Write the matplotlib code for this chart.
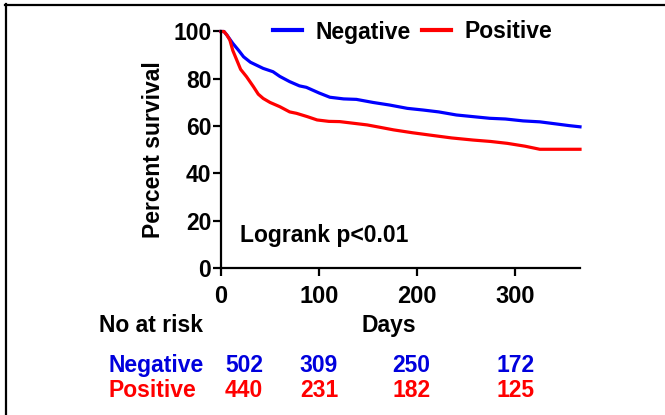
import matplotlib
matplotlib.use("Agg")
import matplotlib.pyplot as plt
from matplotlib.lines import Line2D

plt.rcParams['font.family'] = ['Liberation Sans', 'DejaVu Sans']
plt.rcParams['font.weight'] = 'bold'

# ---- data ----
neg_days = [0, 3, 6, 12, 18, 23, 30, 43, 53, 60, 70, 80, 87, 100, 111, 125, 138,
            155, 172, 190, 206, 222, 240, 257, 274, 290, 308, 325, 342, 355, 366]
neg_surv = [100, 100, 98.5, 95, 92, 89.3, 87, 84.4, 83, 81, 78.8, 77, 76.4, 74, 72.2,
            71.5, 71.3, 70, 68.9, 67.5, 66.8, 66, 64.7, 64, 63.3, 63, 62.2, 61.8,
            60.9, 60.2, 59.7]
pos_days = [0, 3, 6, 9, 12, 16, 20, 26, 33, 38, 43, 50, 60, 70, 77, 88, 98, 110,
            121, 135, 149, 162, 176, 195, 213, 235, 257, 275, 292, 310, 325, 345, 366]
pos_surv = [100, 100, 98.5, 96.4, 92, 88, 84, 80.9, 76.7, 73.5, 71.7, 70, 68.2, 66,
            65.4, 64, 62.6, 62, 61.9, 61.2, 60.5, 59.5, 58.4, 57.2, 56.2, 55, 54.1,
            53.5, 52.7, 51.5, 50.2, 50.2, 50.2]

series_names = ["Negative", "Positive"]
series_colors = ["#0000FF", "#FF0000"]
text_colors = ["#0000DD", "#FF0000"]
x_ticks = [0, 100, 200, 300]
y_ticks = [0, 20, 40, 60, 80, 100]
risk_neg = [502, 309, 250, 172]
risk_pos = [440, 231, 182, 125]
pvalue_text = "Logrank p<0.01"

W, H = 665, 415
fig = plt.figure(figsize=(W / 100, H / 100), dpi=100)

def fx(px):
    return px / W

def fy(py):
    return 1 - py / H

ax = fig.add_axes([fx(221), fy(268), fx(580) - fx(221), fy(31.5) - fy(268)])

ax.plot(neg_days, neg_surv, color=series_colors[0], lw=2.3, clip_on=False,
        label=series_names[0], solid_joinstyle='round')
ax.plot(pos_days, pos_surv, color=series_colors[1], lw=2.3, clip_on=False,
        label=series_names[1], solid_joinstyle='round')

ax.set_xlim(0, 366)
ax.set_ylim(0, 100)
ax.set_xticks(x_ticks)
ax.set_yticks(y_ticks)
for s in ['top', 'right']:
    ax.spines[s].set_visible(False)
for s in ['left', 'bottom']:
    ax.spines[s].set_linewidth(1.6)
ax.tick_params(axis='both', direction='out', length=6, width=1.6)
ax.tick_params(axis='x', pad=6, labelsize=17)
ax.tick_params(axis='y', pad=1, labelsize=16.5)
for lab in ax.get_xticklabels() + ax.get_yticklabels():
    lab.set_fontweight('bold')

ax.set_ylabel("Percent survival", fontsize=16.5, fontweight='bold', labelpad=6)

ax.text(19.4, 11, pvalue_text, fontsize=16.5, fontweight='bold', va='baseline', ha='left')

leg = fig.legend(loc='center left', bbox_to_anchor=(fx(273), fy(32)), ncol=2,
                 frameon=False, fontsize=16.5, handlelength=1.25, handletextpad=0.6,
                 columnspacing=0.5, borderpad=0, borderaxespad=0)
for t in leg.get_texts():
    t.set_fontweight('bold')
for h in leg.legend_handles:
    h.set_linewidth(3)

# bottom annotations
fig.text(fx(389), fy(332), "Days", fontsize=16.5, fontweight='bold', ha='center', va='baseline')
fig.text(fx(99), fy(332), "No at risk", fontsize=16.5, fontweight='bold', ha='left', va='baseline')

col_centers = [244, 319, 411.5, 516]
row_base = [371.7, 396.7]
for i, (name, vals) in enumerate(zip(series_names, [risk_neg, risk_pos])):
    fig.text(fx(108), fy(row_base[i]), name, fontsize=16.5, fontweight='bold',
             color=text_colors[i], ha='left', va='baseline')
    for cx, v in zip(col_centers, vals):
        fig.text(fx(cx), fy(row_base[i]), str(v), fontsize=16.5, fontweight='bold',
                 color=text_colors[i], ha='center', va='baseline')

# frame lines (top and left)
fig.add_artist(Line2D([fx(5), 1], [fy(5), fy(5)], color='black', lw=1.6,
                      transform=fig.transFigure))
fig.add_artist(Line2D([fx(6), fx(6)], [fy(4.2), 0], color='black', lw=1.6,
                      transform=fig.transFigure))

fig.savefig("out.png", dpi=100)
